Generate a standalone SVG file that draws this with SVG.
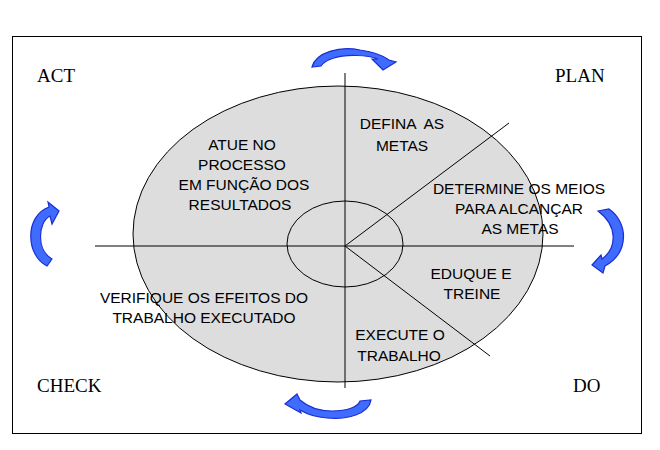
<svg xmlns="http://www.w3.org/2000/svg" width="660" height="450" viewBox="0 0 660 450">
  <style>
    .ln { stroke: #000; stroke-width: 1; fill: none; }
    .sec { font-family: "Liberation Sans", Arial, sans-serif; font-size: 15.5px; fill: #000; text-anchor: middle; }
    .lbl { font-family: "Liberation Serif", "Times New Roman", serif; font-size: 19px; fill: #000; }
    .arr { fill: #3f6bff; stroke: #1a2fd0; stroke-width: 1.2; stroke-linejoin: miter; }
  </style>
  <rect x="0" y="0" width="660" height="450" fill="#fff"/>
  <rect x="12.5" y="36.5" width="629" height="397" class="ln"/>

  <g id="cycle">
    <ellipse cx="338" cy="234" rx="205" ry="148" fill="#dddddd" stroke="#000" stroke-width="1"/>
  </g>

  <g id="connectors">
    <line x1="95" y1="246" x2="574" y2="246" class="ln"/>
    <line x1="345" y1="73" x2="345" y2="388" class="ln"/>
    <line x1="345" y1="246" x2="509" y2="123" class="ln"/>
    <line x1="345" y1="246" x2="490" y2="356" class="ln"/>
    <ellipse cx="345" cy="244" rx="58" ry="43" class="ln"/>
  </g>

  <g id="arrows">
    <path class="arr" d="M 312,67 C 316,52 340,46 360,50 C 374,52 384,56 389,60 L 396,62 L 383,70 L 372,59 L 378,59 C 368,55 346,54 334,58 C 327,60 323,63 321,66 Z"/>
    <path class="arr" d="M 598,211 L 609,209 C 628,222 630,252 605,266 L 603,273 L 592,265 L 601,255 L 602,259 C 617,248 618,226 598,211 Z"/>
    <path class="arr" d="M 360,401 L 371,400 C 369,414 347,420 327,418 C 314,417 305,413 300,410 L 301,413 L 285,404 L 297,394 L 300,400 C 308,407 320,411 332,411 C 347,411 358,407 360,401 Z"/>
    <path class="arr" d="M 49,207 L 48,202 L 59,211 L 52,224 L 50,216 C 38,222 36,250 52,259 L 47,266 C 26,256 24,216 49,207 Z"/>
  </g>

  <g id="act"><text class="lbl" x="37" y="82">ACT</text></g>
  <g id="plan"><text class="lbl" x="555" y="82">PLAN</text></g>
  <g id="check"><text class="lbl" x="37" y="392">CHECK</text></g>
  <g id="do"><text class="lbl" x="573" y="392">DO</text></g>

  <g id="defina">
    <text class="sec" xml:space="preserve" x="402" y="129">DEFINA  AS</text>
    <text class="sec" x="402" y="151">METAS</text>
  </g>
  <g id="atue">
    <text class="sec" x="242" y="150">ATUE NO</text>
    <text class="sec" x="242" y="170">PROCESSO</text>
    <text class="sec" x="244" y="190">EM FUNÇÃO DOS</text>
    <text class="sec" x="240" y="210">RESULTADOS</text>
  </g>
  <g id="determine">
    <text class="sec" x="519" y="194">DETERMINE OS MEIOS</text>
    <text class="sec" x="519" y="214">PARA ALCANÇAR</text>
    <text class="sec" x="520" y="234">AS METAS</text>
  </g>
  <g id="eduque">
    <text class="sec" x="471" y="279">EDUQUE E</text>
    <text class="sec" x="472" y="299">TREINE</text>
  </g>
  <g id="verifique">
    <text class="sec" x="204" y="303">VERIFIQUE OS EFEITOS DO</text>
    <text class="sec" x="204" y="323">TRABALHO EXECUTADO</text>
  </g>
  <g id="execute">
    <text class="sec" x="400" y="340">EXECUTE O</text>
    <text class="sec" x="399" y="361">TRABALHO</text>
  </g>
</svg>
